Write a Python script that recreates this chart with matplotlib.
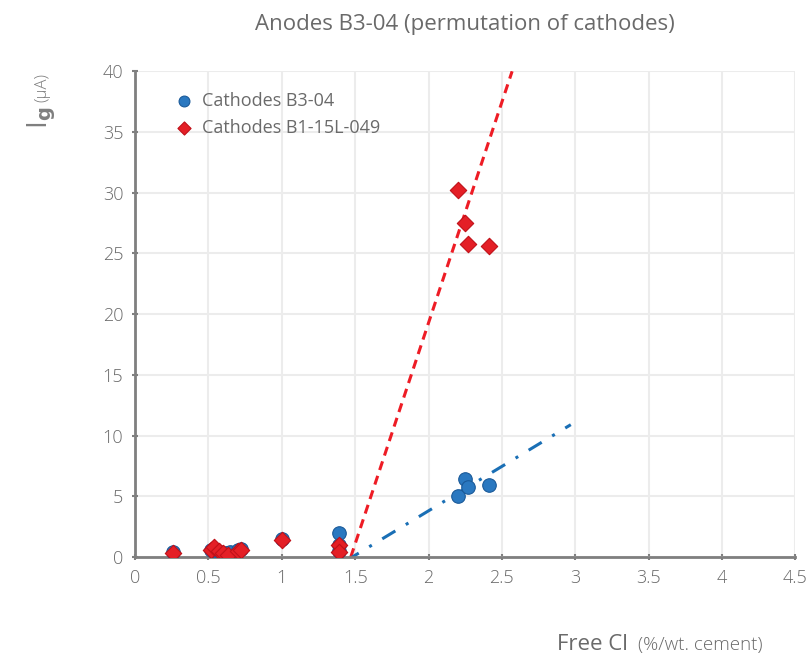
import matplotlib.pyplot as plt
import numpy as np

plt.rcParams["font.family"] = ["Open Sans", "DejaVu Sans"]

# Cathodes B3-04
blue_x = [0.26, 0.52, 0.55, 0.58, 0.62, 0.65, 0.70, 0.72, 1.00, 1.39, 1.39, 1.39, 2.20, 2.25, 2.27, 2.41]
blue_y = [0.4, 0.6, 0.5, 0.4, 0.3, 0.4, 0.6, 0.7, 1.5, 2.0, 0.5, 1.0, 5.0, 6.4, 5.8, 5.9]

# Cathodes B1-15L-049
red_x = [0.26, 0.52, 0.54, 0.57, 0.60, 0.63, 0.70, 0.72, 1.00, 1.39, 1.39, 2.20, 2.25, 2.27, 2.41]
red_y = [0.3, 0.6, 0.8, 0.5, 0.3, 0.2, 0.5, 0.6, 1.4, 1.0, 0.4, 30.2, 27.5, 25.8, 25.6]

# trend lines (start and end points)
red_fit_x = [1.47, 2.57]
red_fit_y = [0.0, 40.0]
blue_fit_x = [1.48, 2.97]
blue_fit_y = [0.0, 10.9]

gray = "#7f7f7f"
text_gray = "#6a6a6a"

fig = plt.figure(figsize=(8.09, 6.6), dpi=100)
ax = fig.add_axes([0.167, 0.156, 0.816, 0.736])

ax.plot(red_fit_x, red_fit_y, color="#ee1c25", linestyle=(0, (3, 2)), linewidth=2.2, zorder=2)
ax.plot(blue_fit_x, blue_fit_y, color="#1a6fb5", linestyle=(2.5, (5, 4, 1, 4)), linewidth=2.2, zorder=2)

ax.scatter(blue_x, blue_y, s=95, marker="o", color="#2a78c0", edgecolors="#1a5a99",
           linewidths=0.8, zorder=3, label="Cathodes B3-04")
ax.scatter(red_x, red_y, s=70, marker="D", color="#e41f26", edgecolors="#c01018",
           linewidths=0.8, zorder=4, label="Cathodes B1-15L-049")

ax.set_xlim(0, 4.5)
ax.set_ylim(0, 40)
ax.set_xticks(np.arange(0, 4.51, 0.5))
ax.set_xticklabels(["0", "0.5", "1", "1.5", "2", "2.5", "3", "3.5", "4", "4.5"])
ax.set_yticks(np.arange(0, 41, 5))
ax.grid(color="#ececec", linewidth=1.5, zorder=0)
ax.set_axisbelow(True)

for side in ["top", "right"]:
    ax.spines[side].set_visible(False)
for side in ["left", "bottom"]:
    ax.spines[side].set_color(gray)
    ax.spines[side].set_linewidth(2)
ax.tick_params(colors=gray, labelcolor=text_gray, labelsize=13, width=1.5, length=5,
               direction="inout", pad=6)
for lab in ax.get_xticklabels() + ax.get_yticklabels():
    lab.set_fontweight("light")

ax.set_title("Anodes B3-04 (permutation of cathodes)", fontsize=16, color=text_gray, pad=30)

fig.text(0.052, 0.822, r"I$_{\mathbf{g}}$", rotation=90, fontsize=20, color=gray,
         ha="center", va="center")
fig.text(0.052, 0.868, "(µA)", rotation=90, fontsize=12, color=gray, ha="center", va="center",
         fontweight="light")

fig.text(0.688, 0.008, "Free Cl", fontsize=16, color=text_gray, ha="left", va="bottom")
fig.text(0.789, 0.009, "(%/wt. cement)", fontsize=13.5, color=text_gray, ha="left", va="bottom",
         fontweight="light")

leg = ax.legend(loc="upper left", bbox_to_anchor=(0.03, 0.98), frameon=False, fontsize=13,
                handletextpad=0.0, labelspacing=0.5, markerscale=0.8, labelcolor=text_gray,
                borderaxespad=0.2)

fig.savefig("out.png", dpi=100)
